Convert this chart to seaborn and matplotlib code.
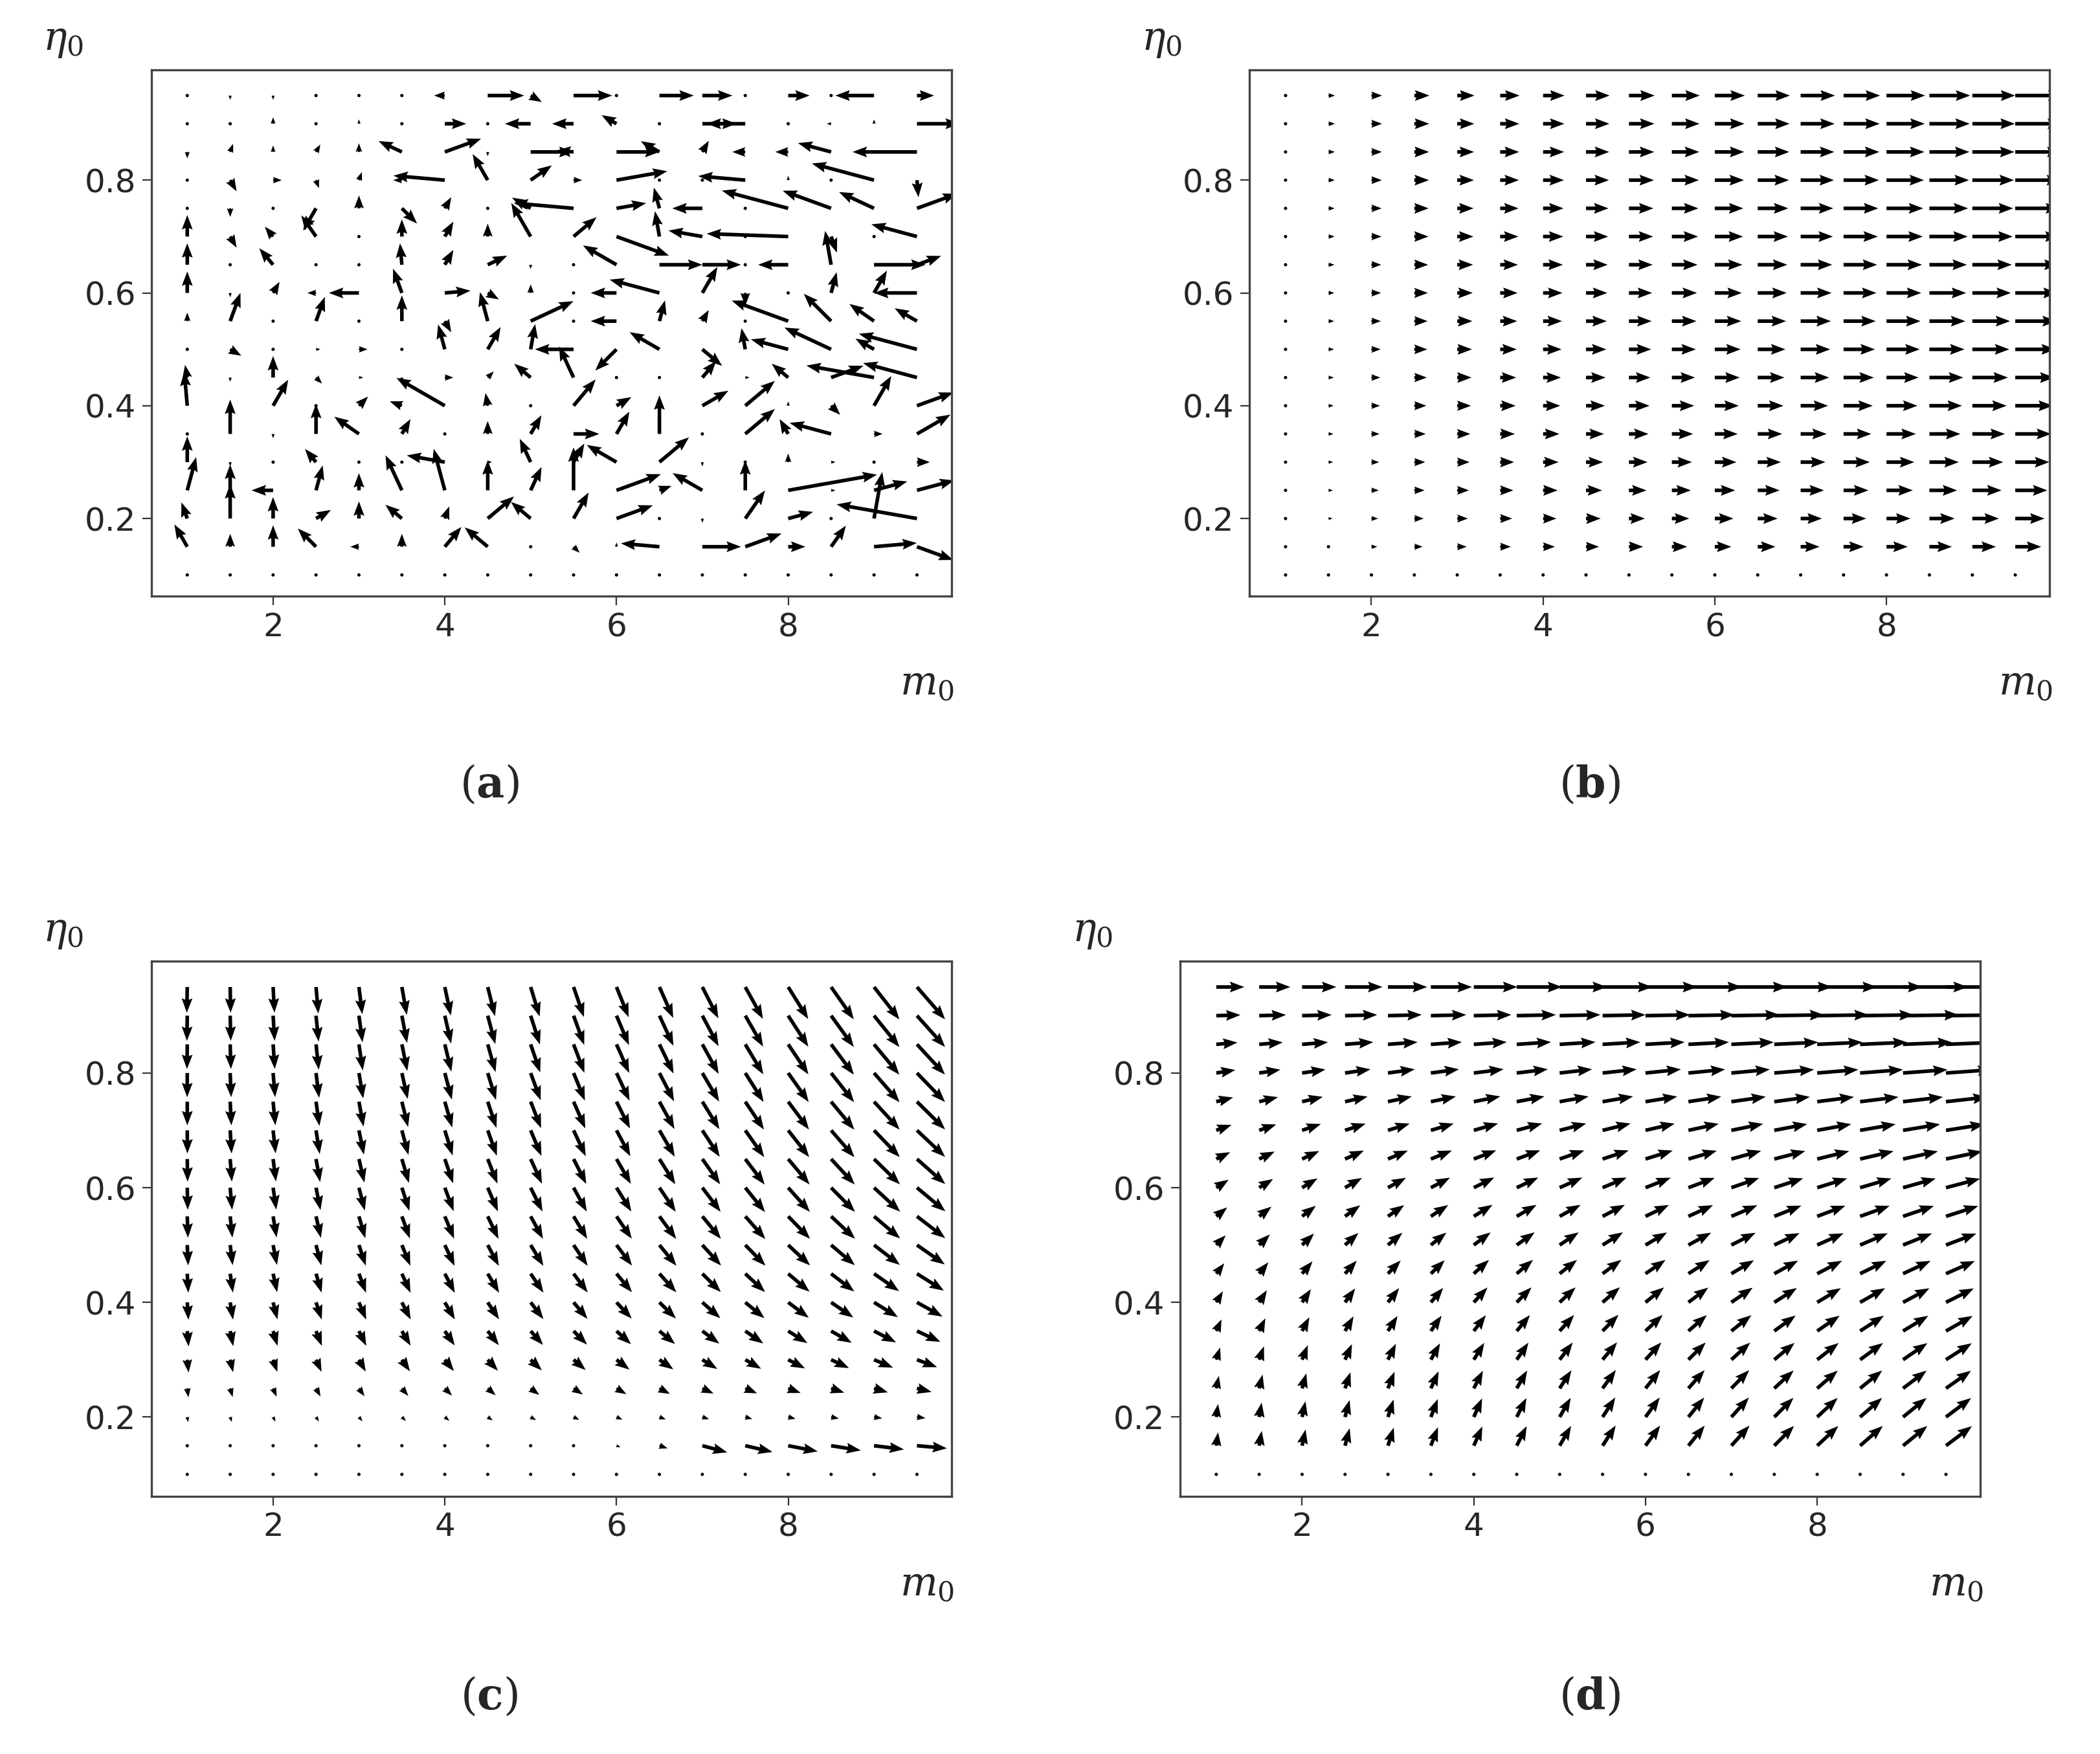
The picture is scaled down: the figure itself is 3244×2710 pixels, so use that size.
import numpy as np
import matplotlib
matplotlib.use("Agg")
import matplotlib.pyplot as plt
import seaborn as sns

sns.set_style("ticks")
plt.rcParams['font.family'] = ['DejaVu Sans']
plt.rcParams['mathtext.fontset'] = 'dejavuserif'

m0 = [1.0 + 0.5 * i for i in range(18)]
eta0 = [0.1 + 0.05 * j for j in range(18)]
xticks = [2, 4, 6, 8]
yticks = [0.2, 0.4, 0.6, 0.8]
captions = ["a", "b", "c", "d"]

# Panel (a): arrow angle (deg) and length (grid units) per cell, rows from eta=0.95 down to 0.1
ANG_A = [
 [90,270,270,0,0,0,180,0,330,0,0,0,0,0,0,0,180,0],
 [90,270,90,0,90,0,0,0,180,180,150,0,0,180,0,180,90,0],
 [270,70,90,60,90,155,20,270,0,175,0,150,60,180,180,165,0,180],
 [0,300,0,290,70,180,175,120,35,0,10,0,0,175,90,0,165,275],
 [0,270,0,240,90,315,60,0,150,175,10,105,180,0,165,160,155,20],
 [90,300,130,125,0,90,60,90,120,40,340,100,170,0,178,290,0,165],
 [90,0,130,0,0,95,60,25,270,0,150,0,0,0,180,100,0,20],
 [90,270,60,180,180,110,5,330,90,0,180,165,60,270,0,75,60,180],
 [90,70,0,70,0,90,300,105,25,0,180,75,60,0,160,135,145,150],
 [0,330,0,0,0,0,105,60,80,180,225,150,320,100,165,155,150,165],
 [100,270,90,315,0,270,0,45,140,115,0,0,50,0,140,20,170,165],
 [95,0,60,0,45,160,150,100,0,50,30,0,30,40,90,315,60,20],
 [0,90,270,90,145,60,0,90,60,0,60,90,0,40,120,165,0,30],
 [90,270,0,130,0,0,170,0,115,60,150,40,270,0,90,0,0,0],
 [75,90,180,75,90,115,105,90,65,90,20,20,150,90,10,0,15,15],
 [110,90,90,30,90,140,70,40,140,60,20,0,270,55,15,0,80,170],
 [120,90,90,135,180,90,50,140,0,315,90,175,0,20,0,55,5,340],
 [90]*18,
]
LEN_A = [
 [.05,.1,.1,.05,.05,.05,.25,.85,.3,.9,0,.8,.7,0,.5,0,.9,.4],
 [.05,.05,.15,0,.1,0,.5,.05,.6,.5,.4,.05,.8,.9,.05,.1,.1,1.0],
 [.15,.2,.15,.2,.2,.6,.9,.1,1.0,.4,1.0,.5,.3,.3,.3,.8,.1,1.5],
 [.05,.3,.2,.2,.2,.2,1.2,.7,.6,.2,1.2,0,0,1.1,.1,0,1.5,.4],
 [.05,.2,.05,.6,.3,.5,.3,0,.5,1.4,.7,.5,.7,0,1.6,1.2,.9,1.0],
 [.5,.3,.3,.6,0,.4,.4,.3,.9,.7,1.3,.6,.8,0,1.9,.4,0,1.1],
 [.5,.05,.5,.05,.05,.5,.4,.5,.1,0,.9,1.0,.9,0,.7,.8,1.2,.6],
 [.5,.1,.3,.2,.7,.6,.6,.3,.2,0,.6,1.2,.7,.3,0,.5,.6,1.0],
 [.2,.7,.05,.6,.05,.6,.3,.7,1.1,0,.6,.5,.3,0,1.4,.9,.7,.6],
 [.05,.3,.05,.1,.2,.05,.6,.6,.6,.9,.7,.8,.6,.5,.9,1.2,.5,1.4],
 [.3,.1,.5,.2,.1,.1,.2,.2,.5,.8,.05,.05,.5,.1,.5,.8,1.6,1.3],
 [.8,.05,.7,.05,.3,.3,1.3,.3,.05,.8,.4,.05,.7,.9,.1,.3,.8,.9],
 [.05,.8,.1,.7,.7,.4,.05,.3,.5,.6,.6,.9,.05,.9,.4,1.0,.2,.9],
 [.6,.1,.05,.4,.05,.05,.9,.1,.6,.5,.8,.9,.1,.05,.2,.1,.05,.3],
 [.8,.6,.5,.6,.4,.9,1.0,.7,.6,1.0,1.1,.3,.8,.7,2.1,.1,.8,.9],
 [.4,.8,.5,.4,.4,.5,.3,.8,.6,.7,.9,.05,.1,.8,.6,.05,1.1,1.9],
 [.6,.3,.5,.6,.2,.3,.6,.7,.05,.2,.1,.9,.9,.9,.4,.6,1.0,.9],
 [.05]*18,
]

# Panel (b): horizontal arrows; top-row lengths per column and row factors (eta=0.1 .. 0.95)
LEN_B_COL = [.05,.15,.25,.35,.4,.45,.5,.55,.6,.65,.7,.75,.8,.85,.9,.95,1.0,1.1]
LEN_B_ROW = [.02,.55,.62,.68,.72,.76,.8,.83,.86,.88,.9,.92,.94,.95,.97,.98,.99,1.0]

# Panel (c)
ANG_C_TOP = [-91,-89,-87,-85,-83,-80,-78,-76,-73,-71,-68,-66,-63,-61,-58,-55,-52,-49]
ANG_C_BOT = [-80,-70,-62,-55,-48,-42,-37,-32,-28,-24,-21,-18,-15,-13,-11,-9,-7,-5]
W_C_ROW = [0,0,.05,.2,.35,.45,.55,.62,.68,.74,.79,.83,.87,.9,.93,.96,.98,1.0]
LEN_C_COL = [.6,.6,.6,.62,.64,.66,.68,.7,.72,.74,.76,.79,.82,.85,.88,.92,.96,1.0]
LEN_C_ROW = [.02,.05,.2,.35,.5,.6,.68,.74,.79,.83,.86,.88,.9,.92,.94,.96,.98,1.0]
LEN_C_R15 = [0,0,0,0,0,0,0,0,0,.05,.1,.2,.6,.65,.7,.7,.7,.7]

# Panel (d)
ANG_D_BOT = [82,80,78,75,72,69,66,63,60,57,54,51,48,45,43,41,39,37]
W_D_ROW = [0,0,0,.05,.12,.2,.28,.36,.44,.52,.6,.68,.76,.83,.89,.94,.98,1.0]
LEN_D_COL = [.45,.5,.55,.6,.63,.66,.7,.73,.76,.8,.83,.86,.9,.93,.96,1.0,1.04,1.08]
LEN_D_ROW = [.03,.7,.68,.66,.66,.66,.67,.68,.7,.73,.76,.8,.84,.9,1.0,1.1,1.25,1.45]

X, Y = np.meshgrid(m0, eta0)

ang_a = np.array(ANG_A[::-1], float); len_a = np.array(LEN_A[::-1], float)
Ua, Va = len_a*np.cos(np.radians(ang_a)), len_a*np.sin(np.radians(ang_a))

len_b = np.outer(LEN_B_ROW, LEN_B_COL)
Ub, Vb = len_b, np.zeros_like(len_b)

w = np.array(W_C_ROW)[:, None]
ang_c = np.array(ANG_C_TOP)[None, :]*w + np.array(ANG_C_BOT)[None, :]*(1-w)
len_c = np.outer(LEN_C_ROW, LEN_C_COL)
len_c[1, :] = LEN_C_R15
Uc, Vc = len_c*np.cos(np.radians(ang_c)), len_c*np.sin(np.radians(ang_c))

wd = np.array(W_D_ROW)[:, None]
ang_d = np.array(ANG_D_BOT)[None, :]*(1-wd)
len_d = np.outer(LEN_D_ROW, LEN_D_COL)
Ud, Vd = len_d*np.cos(np.radians(ang_d)), len_d*np.sin(np.radians(ang_d))

fig = plt.figure(figsize=(16.22, 13.55), dpi=200)
rects = [(.072, .660, .381, .300), (.595, .660, .381, .300),
         (.072, .147, .381, .305), (.562, .147, .381, .305)]
fields = [(Ua, Va), (Ub, Vb), (Uc, Vc), (Ud, Vd)]
cap_pos = [(.233, .54), (.757, .54), (.233, .02), (.757, .02)]

for rect, (U, V), cap, cp in zip(rects, fields, captions, cap_pos):
    ax = fig.add_axes(rect)
    ax.quiver(X, Y, U, V, angles='uv', scale_units='x', scale=2.0,
              width=0.0045, headwidth=3.0, headlength=4, headaxislength=3.6,
              color='black')
    ax.set_xlim(0.58, 9.9)
    ax.set_ylim(0.062, 0.995)
    ax.set_xticks(xticks)
    ax.set_yticks(yticks)
    ax.set_xticklabels([str(t) for t in xticks])
    ax.set_yticklabels([f"{t:.1f}" for t in yticks])
    ax.tick_params(labelsize=18, length=5, color='#333333')
    for s in ax.spines.values():
        s.set_color('#444444'); s.set_linewidth(1.2)
    ax.text(-0.11, 1.02, r'$\eta_0$', transform=ax.transAxes, fontsize=22,
            ha='center', va='bottom')
    ax.text(0.97, -0.13, r'$m_0$', transform=ax.transAxes, fontsize=22,
            ha='center', va='top')
    fig.text(cp[0], cp[1], r'$(\mathbf{' + cap + r'})$', fontsize=24,
             ha='center', va='bottom')

fig.savefig('out.png', dpi=200, facecolor='white')
